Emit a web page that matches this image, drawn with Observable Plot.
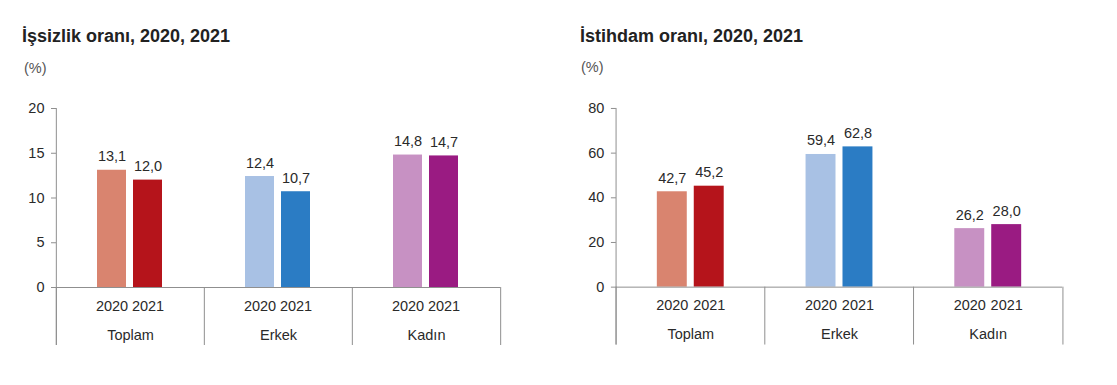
<!DOCTYPE html>
<html><head><meta charset="utf-8">
<script src="https://cdn.jsdelivr.net/npm/d3@7"></script>
<script src="https://cdn.jsdelivr.net/npm/@observablehq/plot@0.6"></script>
<style>
body{margin:0;background:#fff;font-family:"Liberation Sans",Arial,sans-serif;}
#wrap{position:relative;width:1117px;height:385px;overflow:hidden;background:#fff;}
.title{position:absolute;font-weight:bold;font-size:18px;line-height:1;color:#222;white-space:nowrap;}
.unit{position:absolute;font-size:14.5px;line-height:1;color:#555;}
.chart{position:absolute;top:90px;}
</style></head><body>
<div id="wrap">
  <div class="title" style="left:22px;top:27px">İşsizlik oranı, 2020, 2021</div>
  <div class="unit" style="left:24px;top:61px">(%)</div>
  <div class="title" style="left:580px;top:27px">İstihdam oranı, 2020, 2021</div>
  <div class="unit" style="left:581px;top:60px">(%)</div>
  <div class="chart" id="c1" style="left:0px"></div>
  <div class="chart" id="c2" style="left:560px"></div>
</div>
<script>
// ---- data ----
const categories = ["Toplam", "Erkek", "Kadın"];
const years = ["2020", "2021"];
const unemployment2020 = [13.1, 12.4, 14.8];
const unemployment2021 = [12.0, 10.7, 14.7];
const employment2020 = [42.7, 59.4, 26.2];
const employment2021 = [45.2, 62.8, 28.0];
const unemploymentTicks = [0, 5, 10, 15, 20];
const employmentTicks = [0, 20, 40, 60, 80];
// colours per category: [2020, 2021]
const colors2020 = ["#d9846f", "#a8c1e4", "#c791c3"];
const colors2021 = ["#b5141b", "#2b7cc4", "#9a1b82"];

const fmt = v => v.toFixed(1).replace(".", ",");

function makeChart(vals2020, vals2021, ticks, marginRight) {
  const width = 558, height = 270, marginLeft = 55, marginTop = 18, marginBottom = 73;
  const below = 58; // separator length below the baseline
  const half = (width - marginLeft - marginRight) / categories.length / 2;
  const rows = [];
  categories.forEach((c, i) => {
    rows.push({cat: c, year: years[0], value: vals2020[i], color: colors2020[i]});
    rows.push({cat: c, year: years[1], value: vals2021[i], color: colors2021[i]});
  });
  const yMax = ticks[ticks.length - 1];
  const grey = "#8f8f8f";
  const ink = "#2a2a2a";
  return Plot.plot({
    width, height, marginLeft, marginRight, marginTop, marginBottom,
    style: {fontFamily: '"Liberation Sans", Arial, sans-serif', background: "#fff", overflow: "visible"},
    fx: {domain: categories, padding: 0, axis: null},
    x: {domain: years, paddingInner: 0.19, paddingOuter: 1.1, axis: null},
    y: {domain: [0, yMax], axis: null},
    marks: [
      Plot.barY(rows, {fx: "cat", x: "year", y: "value", fill: "color"}),
      Plot.text(rows, {fx: "cat", x: "year", y: "value", text: d => fmt(d.value), dy: -9, lineAnchor: "bottom", fontSize: 14.5, fill: ink}),
      Plot.ruleY([0], {stroke: grey}),
      // y axis line (first facet) extended below baseline
      Plot.ruleX([categories[0]], {fx: d => d, x: null, y1: yMax, y2: 0, dx: -half, insetBottom: -below, stroke: grey}),
      // group separators
      Plot.ruleX(categories, {fx: d => d, x: null, y1: 0, y2: 0, dx: -half, insetBottom: -below, stroke: grey}),
      Plot.ruleX([categories[categories.length - 1]], {fx: d => d, x: null, y1: 0, y2: 0, dx: half, insetBottom: -below, stroke: grey}),
      Plot.axisY({ticks, tickSize: 5, tickPadding: 7, fontSize: 14.5, stroke: grey, color: ink, label: null}),
      Plot.axisX({anchor: "bottom", tickSize: 0, tickPadding: 13, fontSize: 14.5, color: ink, label: null}),
      Plot.axisFx({anchor: "bottom", tickSize: 0, tickPadding: 42, fontSize: 14.5, color: ink, label: null})
    ]
  });
}

document.getElementById("c1").appendChild(makeChart(unemployment2020, unemployment2021, unemploymentTicks, 58));
document.getElementById("c2").appendChild(makeChart(employment2020, employment2021, employmentTicks, 54));
</script>
</body></html>
